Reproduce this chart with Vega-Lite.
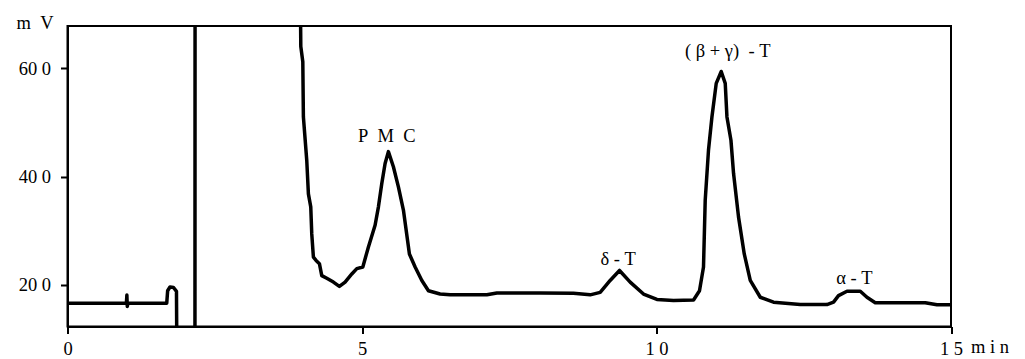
{
  "$schema": "https://vega.github.io/schema/vega-lite/v6.json",
  "autosize": "none",
  "padding": {"left": 67.5, "top": 26, "right": 74, "bottom": 32},
  "width": 883.5,
  "height": 300.5,
  "background": "white",
  "config": {
    "view": {"stroke": "black", "strokeWidth": 2},
    "axis": {
      "grid": false,
      "labelFont": "Liberation Serif",
      "titleFont": "Liberation Serif",
      "labelFontSize": 18.5,
      "labelColor": "black",
      "titleFontSize": 18.5,
      "titleFontWeight": "normal",
      "titleColor": "black",
      "domainColor": "black",
      "domainWidth": 2,
      "tickColor": "black",
      "tickWidth": 2,
      "tickSize": 7
    }
  },
  "datasets": {
    "trace": [
      {"t": 0, "mV": 166}, {"t": 0.5, "mV": 166}, {"t": 1.0, "mV": 166}, {"t": 1.008, "mV": 181}, {"t": 1.015, "mV": 160}, {"t": 1.025, "mV": 166},
      {"t": 1.685, "mV": 166}, {"t": 1.70, "mV": 189}, {"t": 1.74, "mV": 196}, {"t": 1.80, "mV": 195}, {"t": 1.85, "mV": 188}, {"t": 1.855, "mV": 100},
      {"t": 2.164, "mV": 100}, {"t": 2.166, "mV": 800}, {"t": 3.948, "mV": 800}, {"t": 3.961, "mV": 640}, {"t": 3.995, "mV": 612},
      {"t": 4.005, "mV": 510}, {"t": 4.062, "mV": 430}, {"t": 4.090, "mV": 368}, {"t": 4.130, "mV": 344}, {"t": 4.147, "mV": 294},
      {"t": 4.175, "mV": 251}, {"t": 4.220, "mV": 245}, {"t": 4.277, "mV": 239}, {"t": 4.317, "mV": 217}, {"t": 4.402, "mV": 212},
      {"t": 4.514, "mV": 205}, {"t": 4.616, "mV": 197}, {"t": 4.713, "mV": 205}, {"t": 4.827, "mV": 220}, {"t": 4.912, "mV": 230},
      {"t": 5.014, "mV": 233}, {"t": 5.109, "mV": 270}, {"t": 5.222, "mV": 310}, {"t": 5.279, "mV": 344}, {"t": 5.336, "mV": 387},
      {"t": 5.392, "mV": 424}, {"t": 5.448, "mV": 446}, {"t": 5.533, "mV": 418}, {"t": 5.618, "mV": 381}, {"t": 5.703, "mV": 338},
      {"t": 5.805, "mV": 257}, {"t": 5.902, "mV": 233}, {"t": 6.016, "mV": 208}, {"t": 6.128, "mV": 189}, {"t": 6.326, "mV": 183},
      {"t": 6.496, "mV": 181.5}, {"t": 7.12, "mV": 181.5}, {"t": 7.29, "mV": 185}, {"t": 8.025, "mV": 185}, {"t": 8.59, "mV": 184.5},
      {"t": 8.874, "mV": 181.5}, {"t": 9.044, "mV": 186}, {"t": 9.213, "mV": 208}, {"t": 9.372, "mV": 226.5}, {"t": 9.553, "mV": 205},
      {"t": 9.779, "mV": 183}, {"t": 10.007, "mV": 173}, {"t": 10.289, "mV": 171}, {"t": 10.629, "mV": 172}, {"t": 10.730, "mV": 189},
      {"t": 10.798, "mV": 233}, {"t": 10.827, "mV": 356}, {"t": 10.883, "mV": 449}, {"t": 10.941, "mV": 510}, {"t": 11.014, "mV": 572},
      {"t": 11.099, "mV": 594}, {"t": 11.167, "mV": 572}, {"t": 11.196, "mV": 510}, {"t": 11.264, "mV": 467}, {"t": 11.308, "mV": 406},
      {"t": 11.393, "mV": 325}, {"t": 11.490, "mV": 257}, {"t": 11.592, "mV": 208}, {"t": 11.762, "mV": 177}, {"t": 11.987, "mV": 168},
      {"t": 12.44, "mV": 163.5}, {"t": 12.894, "mV": 163.5}, {"t": 13.006, "mV": 168}, {"t": 13.09, "mV": 180}, {"t": 13.234, "mV": 188},
      {"t": 13.46, "mV": 188}, {"t": 13.573, "mV": 177}, {"t": 13.714, "mV": 167}, {"t": 13.97, "mV": 167}, {"t": 14.563, "mV": 167},
      {"t": 14.762, "mV": 163}, {"t": 15.0, "mV": 163}
    ],
    "peaks": [
      {"t": 5.42, "mV": 463, "label": "P\u00a0\u00a0M\u00a0\u00a0C"},
      {"t": 11.21, "mV": 621, "label": "(\u00a0β\u00a0+\u00a0γ)\u00a0\u00a0-\u00a0T"},
      {"t": 9.35, "mV": 236, "label": "δ\u00a0-\u00a0T"},
      {"t": 13.36, "mV": 202, "label": "α\u00a0-\u00a0T"}
    ]
  },
  "layer": [
    {
      "data": {"name": "trace"},
      "mark": {"type": "line", "color": "black", "strokeWidth": 3.5, "clip": true, "strokeJoin": "round"},
      "encoding": {
        "x": {
          "field": "t", "type": "quantitative",
          "scale": {"domain": [0, 15], "nice": false, "zero": false},
          "axis": {
            "values": [0, 5, 10, 15],
            "format": "d",
            "labelFlush": false,
            "labelOverlap": false,
            "labelPadding": 6,
            "labelExpr": "datum.value == 10 ? '1\u00a00' : datum.value == 15 ? '1\u00a05' : datum.label",
            "title": "m\u00a0i\u00a0n",
            "titleAnchor": "start",
            "titleAlign": "left",
            "titleBaseline": "alphabetic",
            "titleX": 903,
            "titleY": 26
          }
        },
        "y": {
          "field": "mV", "type": "quantitative",
          "scale": {"domain": [123, 678], "nice": false, "zero": false},
          "axis": {
            "values": [200, 400, 600],
            "labelFlush": false,
            "labelPadding": 10,
            "labelExpr": "datum.value == 200 ? '20\u00a00' : datum.value == 400 ? '40\u00a00' : '60\u00a00'",
            "title": "m\u00a0\u00a0V",
            "titleAngle": 0,
            "titleAlign": "center",
            "titleBaseline": "alphabetic",
            "titleX": -33,
            "titleY": 2
          }
        }
      }
    },
    {
      "data": {"name": "peaks"},
      "mark": {"type": "text", "font": "Liberation Serif", "fontSize": 18.5, "color": "black", "align": "center", "baseline": "alphabetic"},
      "encoding": {
        "x": {"field": "t", "type": "quantitative"},
        "y": {"field": "mV", "type": "quantitative"},
        "text": {"field": "label"}
      }
    }
  ]
}
